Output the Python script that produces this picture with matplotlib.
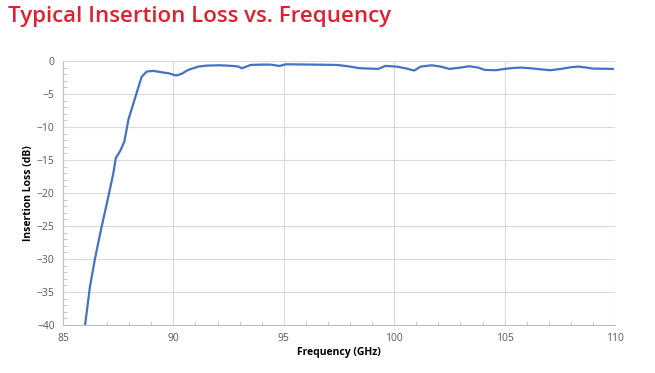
import matplotlib.pyplot as plt
import matplotlib as mpl
from matplotlib.ticker import MultipleLocator

mpl.use("Agg")

# frequency (GHz) and insertion loss (dB)
freq = [86.0, 86.22, 86.45, 86.75, 87.05, 87.28, 87.39, 87.58, 87.78,
        87.96, 88.26, 88.56, 88.79, 89.09, 89.54, 89.77, 90.12, 90.37,
        90.67, 91.13, 91.5, 92.1, 92.7, 92.95, 93.1, 93.5, 94.0, 94.4,
        94.8, 95.1, 96.3, 97.4, 97.9, 98.45, 99.27, 99.6, 100.1, 100.5,
        100.9, 101.2, 101.7, 102.1, 102.5, 103.0, 103.4, 103.8, 104.1,
        104.6, 105.0, 105.4, 105.8, 106.15, 106.6, 107.06, 107.65, 108.0,
        108.35, 108.7, 109.0, 109.9]
loss = [-40.0, -34.2, -29.9, -25.1, -20.6, -17.0, -14.7, -13.7, -12.2,
        -8.9, -5.65, -2.4, -1.6, -1.5, -1.75, -1.85, -2.2, -1.95,
        -1.35, -0.85, -0.7, -0.65, -0.75, -0.85, -1.1, -0.6, -0.55, -0.55,
        -0.75, -0.5, -0.55, -0.6, -0.8, -1.1, -1.2, -0.75, -0.85, -1.1,
        -1.45, -0.85, -0.65, -0.85, -1.2, -1.0, -0.8, -1.0, -1.35,
        -1.4, -1.2, -1.05, -1.0, -1.1, -1.25, -1.4, -1.15, -0.95,
        -0.85, -1.0, -1.15, -1.2]

text_grey = "#595959"
grid_grey = "#d9d9d9"

fig = plt.figure(figsize=(6.55, 3.73), dpi=100)
ax = fig.add_axes([0.0962, 0.1287, 0.8428, 0.7078])

ax.plot(freq, loss, color="#4472c4", linewidth=1.6,
        solid_joinstyle="round")

ax.set_xlim(85, 110)
ax.set_ylim(-40, 0)
ax.xaxis.set_major_locator(MultipleLocator(5))
ax.xaxis.set_minor_locator(MultipleLocator(1))
ax.yaxis.set_major_locator(MultipleLocator(5))
ax.yaxis.set_minor_locator(MultipleLocator(1))
ax.grid(True, which="major", color=grid_grey, linewidth=0.8)
ax.set_axisbelow(True)

for side in ["top", "right"]:
    ax.spines[side].set_visible(False)
for side in ["left", "bottom"]:
    ax.spines[side].set_color("#bfbfbf")
    ax.spines[side].set_linewidth(0.8)

ax.tick_params(which="major", length=0, labelsize=7.5, labelcolor=text_grey,
               pad=6)
ax.tick_params(which="minor", direction="in", length=3, color="#bfbfbf")

for lab in ax.get_xticklabels() + ax.get_yticklabels():
    lab.set_family("Open Sans")

ax.set_xlabel("Frequency (GHz)", fontsize=7.5, fontweight="bold",
              family="Open Sans", color="black", labelpad=2)
ax.set_ylabel("Insertion Loss (dB)", fontsize=7.5, fontweight="bold",
              family="Open Sans", color="black", labelpad=2)

fig.text(0.012, 0.985, "Typical Insertion Loss vs. Frequency",
         fontsize=16, fontweight="semibold", family="Open Sans",
         color="#e0202f", va="top", ha="left")

plt.savefig("out.png", dpi=100)
